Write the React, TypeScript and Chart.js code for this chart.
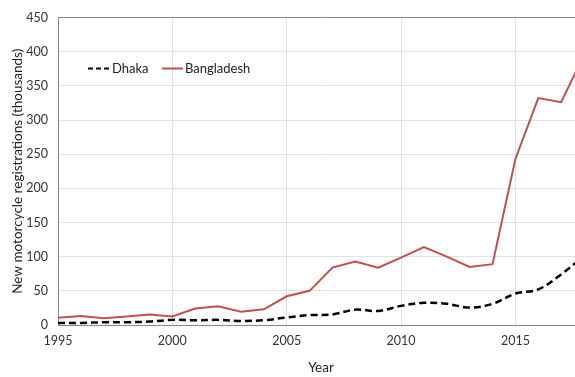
import React, { useEffect, useRef } from "react";
import { Chart, registerables } from "chart.js";

Chart.register(...registerables);

const years = [1995, 1996, 1997, 1998, 1999, 2000, 2001, 2002, 2003, 2004, 2005, 2006, 2007, 2008, 2009, 2010, 2011, 2012, 2013, 2014, 2015, 2016, 2017, 2018];
const dhaka = [3, 3, 4, 4, 5, 7.5, 7, 7.5, 6, 7, 11, 14.5, 15.5, 22.5, 20.5, 28, 32.5, 31, 25.5, 31, 46, 52, 74, 101];
const bangladesh = [10.5, 13, 10, 12.5, 15.5, 12.5, 24, 27.5, 19.5, 23, 42, 50, 84, 93, 84, 98.5, 114, 100, 85, 89, 243, 332, 326, 395];
const seriesNames = ["Dhaka", "Bangladesh"];
const xTitle = "Year";
const yTitle = "New motorcycle registrations (thousands)";

const FONT = "Lato, 'Liberation Sans', sans-serif";
const DHAKA_COLOR = "#000000";
const BD_COLOR = "#c0504d";

const insideLegend = {
  id: "insideLegend",
  afterDraw(chart: any) {
    const ctx = chart.ctx;
    const a = chart.chartArea;
    const y = a.top + 51;
    ctx.save();
    ctx.font = `13px ${FONT}`;
    ctx.textBaseline = "middle";
    ctx.fillStyle = "#222";
    ctx.strokeStyle = DHAKA_COLOR;
    ctx.lineWidth = 2;
    ctx.setLineDash([5, 3]);
    ctx.beginPath();
    ctx.moveTo(a.left + 30, y);
    ctx.lineTo(a.left + 52, y);
    ctx.stroke();
    ctx.setLineDash([]);
    ctx.fillText(seriesNames[0], a.left + 54, y);
    ctx.strokeStyle = BD_COLOR;
    ctx.lineWidth = 2;
    ctx.beginPath();
    ctx.moveTo(a.left + 104, y);
    ctx.lineTo(a.left + 125, y);
    ctx.stroke();
    ctx.fillText(seriesNames[1], a.left + 127, y);
    ctx.restore();
  },
};

export default function App() {
  const ref = useRef<HTMLCanvasElement | null>(null);
  useEffect(() => {
    if (!ref.current) return;
    const chart = new Chart(ref.current, {
      type: "line",
      data: {
        datasets: [
          {
            label: seriesNames[0],
            data: years.map((x, i) => ({ x, y: dhaka[i] })),
            borderColor: DHAKA_COLOR,
            borderWidth: 2.5,
            borderDash: [7, 4],
            tension: 0.35,
            pointRadius: 0,
            fill: false,
          },
          {
            label: seriesNames[1],
            data: years.map((x, i) => ({ x, y: bangladesh[i] })),
            borderColor: BD_COLOR,
            borderWidth: 2,
            tension: 0,
            pointRadius: 0,
            fill: false,
          },
        ],
      },
      options: {
        animation: false,
        responsive: false,
        layout: { padding: { top: 12, right: 16, left: 0, bottom: 0 } },
        plugins: { legend: { display: false }, tooltip: { enabled: false } },
        scales: {
          x: {
            type: "linear",
            min: 1995,
            max: 2018,
            afterFit: (s: any) => { s.height = 52; },
            ticks: {
              stepSize: 5,
              includeBounds: false,
              callback: (v: any) => String(v),
              color: "#333",
              font: { family: FONT, size: 12.5 },
              padding: 8,
              maxRotation: 0,
            },
            grid: { color: "#e2e2e2", drawTicks: false },
            border: { color: "#888", width: 1 },
            title: {
              display: true,
              text: xTitle,
              color: "#222",
              font: { family: FONT, size: 13.5 },
              padding: { top: 0, bottom: 1 },
            },
          },
          y: {
            min: 0,
            max: 450,
            afterFit: (s: any) => { s.width = 58; },
            ticks: {
              stepSize: 50,
              color: "#333",
              font: { family: FONT, size: 12.5 },
              padding: 10,
            },
            grid: {
              color: (c: any) => (c.tick && c.tick.value === 450 ? "#888" : "#e2e2e2"),
              drawTicks: false,
            },
            border: { color: "#888", width: 1 },
            title: {
              display: true,
              text: yTitle,
              color: "#222",
              font: { family: FONT, size: 13.5 },
              padding: { top: 10, bottom: 0 },
            },
          },
        },
      },
      plugins: [insideLegend],
    });
    return () => chart.destroy();
  }, []);
  return (
    <div style={{ position: "fixed", left: 0, top: 0, width: 575, height: 377, overflow: "hidden", background: "#fff" }}>
      <canvas ref={ref} width={600} height={377} style={{ display: "block" }} />
    </div>
  );
}
